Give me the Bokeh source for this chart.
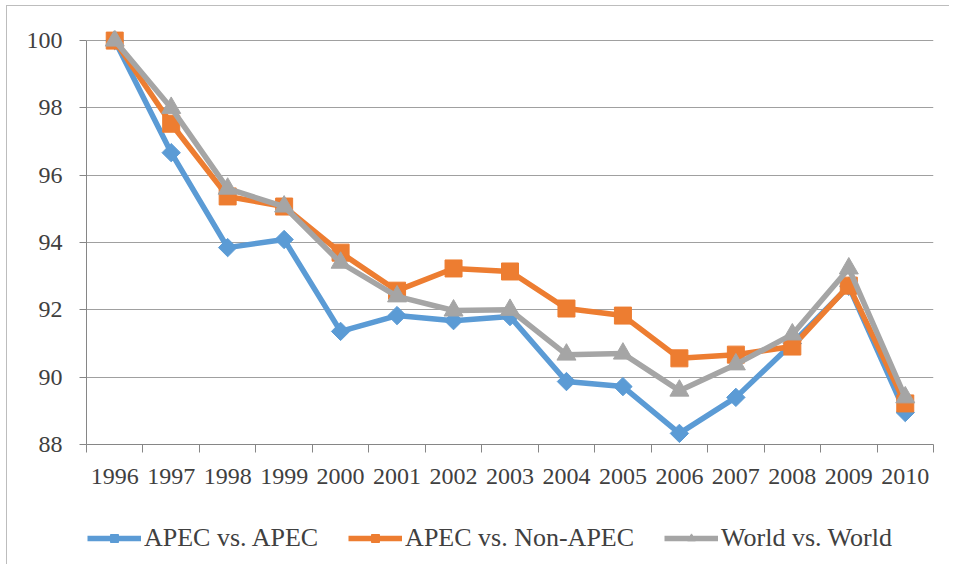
import math
from bokeh.plotting import figure
from bokeh.layouts import column
from bokeh.models import FixedTicker, Legend, LegendItem, Range1d, ColumnDataSource
from bokeh.embed import file_html
from bokeh.resources import INLINE

years = ["1996", "1997", "1998", "1999", "2000", "2001", "2002", "2003",
         "2004", "2005", "2006", "2007", "2008", "2009", "2010"]
apec_apec = [100.0, 96.67, 93.85, 94.09, 91.36, 91.83, 91.68, 91.80,
             89.87, 89.72, 88.33, 89.40, 91.00, 92.70, 88.95]
apec_nonapec = [100.0, 97.53, 95.37, 95.07, 93.70, 92.57, 93.23, 93.14,
                92.04, 91.83, 90.56, 90.67, 90.91, 92.72, 89.22]
world_world = [100.0, 98.00, 95.60, 95.07, 93.40, 92.40, 91.98, 92.00,
               90.67, 90.70, 89.60, 90.38, 91.27, 93.23, 89.40]
y_ticks = [88, 90, 92, 94, 96, 98, 100]
series_names = ["APEC vs. APEC", "APEC vs. Non-APEC", "World vs. World"]
colors = ["#5B9BD5", "#ED7D31", "#A5A5A5"]

xs = [i + 0.5 for i in range(len(years))]
FONT = "Liberation Serif"
W = 942

p = figure(width=W, height=488, output_backend="svg", toolbar_location=None,
           x_range=Range1d(0, len(years)), y_range=Range1d(88, 100.3),
           min_border_left=79, min_border_right=16, min_border_top=24,
           min_border_bottom=50)
p.outline_line_color = None
p.background_fill_color = "white"
p.border_fill_color = "white"

# x axis: labels at category centres, tick marks at category boundaries
p.xaxis.ticker = FixedTicker(ticks=xs, minor_ticks=list(range(len(years) + 1)))
p.xaxis.major_label_overrides = {x: y for x, y in zip(xs, years)}
p.xaxis.major_tick_line_color = None
p.xaxis.minor_tick_line_color = "#868686"
p.xaxis.minor_tick_out = 8
p.xaxis.minor_tick_in = 0
p.xaxis.axis_line_color = "#868686"
p.xaxis.major_label_text_font = FONT
p.xaxis.major_label_text_font_size = "24px"
p.xaxis.major_label_text_color = "#404040"
p.xaxis.major_label_standoff = 16

p.yaxis.ticker = FixedTicker(ticks=y_ticks)
p.yaxis.bounds = (88, 100)
p.yaxis.axis_line_color = "#868686"
p.yaxis.major_tick_line_color = "#868686"
p.yaxis.major_tick_out = 7
p.yaxis.major_tick_in = 0
p.yaxis.minor_tick_line_color = None
p.yaxis.major_label_text_font = FONT
p.yaxis.major_label_text_font_size = "24px"
p.yaxis.major_label_text_color = "#404040"
p.yaxis.major_label_standoff = 17

p.xgrid.grid_line_color = None
p.ygrid.grid_line_color = "#A0A0A0"
p.ygrid.grid_line_width = 1

# legend strip underneath the chart (its own ranges keep the copies out of view)
p2 = figure(width=W, height=70, output_backend="svg", toolbar_location=None,
            x_range=Range1d(-10, -9), y_range=Range1d(-10, -9),
            x_axis_location=None, y_axis_location=None,
            min_border_left=0, min_border_right=0, min_border_top=0,
            min_border_bottom=0)
p2.grid.visible = False
p2.outline_line_color = None
p2.background_fill_color = "white"
p2.border_fill_color = "white"

markers = ["square", "square", "triangle"]
angles = [math.pi / 4, 0, 0]
sizes = [13, 17, 19]
items = []
for name, vals, col, mk, ang, sz in zip(series_names,
                                        [apec_apec, apec_nonapec, world_world],
                                        colors, markers, angles, sizes):
    src = ColumnDataSource(dict(x=xs, y=vals))
    p.line("x", "y", source=src, line_color=col, line_width=5.5)
    p.scatter("x", "y", source=src, marker=mk, angle=ang, size=sz,
              fill_color=col, line_color=col)
    ln = p2.line("x", "y", source=src, line_color=col, line_width=5.5)
    sc = p2.scatter("x", "y", source=src, marker=mk, angle=ang, size=sz,
                    fill_color=col, line_color=col)
    items.append(LegendItem(label=name, renderers=[ln, sc]))

legend = Legend(items=items, orientation="horizontal", location=(1, 11),
                glyph_width=54, glyph_height=20, label_standoff=3, spacing=30,
                padding=0, margin=0, border_line_color=None,
                background_fill_alpha=0,
                label_text_font=FONT, label_text_font_size="26px",
                label_text_color="#404040", label_height=20)
p2.add_layout(legend, "center")

layout = column(p, p2, spacing=0)
layout.styles = {"margin-left": "6px", "margin-top": "5px",
                 "border-left": "1px solid #BDBDBD", "border-top": "1px solid #BDBDBD"}

open("out.html", "w").write(file_html(layout, INLINE))
